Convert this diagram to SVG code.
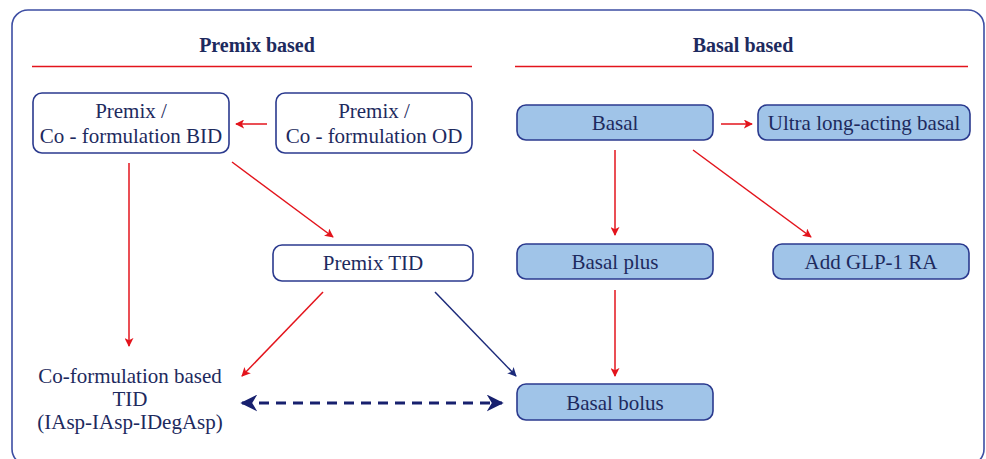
<svg xmlns="http://www.w3.org/2000/svg" width="986" height="459" viewBox="0 0 986 459">
  <style>
    .frame { fill: #ffffff; stroke: #3d4ea3; stroke-width: 1.6; }
    .rule { stroke: #e3141c; stroke-width: 1.6; }
    .head { font-family: 'Liberation Serif', 'DejaVu Serif', serif; font-weight: bold; font-size: 20px; fill: #1d2a5e; text-anchor: middle; }
    .lbl { font-family: 'Liberation Serif', 'DejaVu Serif', serif; font-size: 21px; fill: #1d2a5e; text-anchor: middle; }
    .box-w { fill: #ffffff; stroke: #2b3a8e; stroke-width: 1.6; }
    .box-b { fill: #a0c4e8; stroke: #2b3a8e; stroke-width: 1.6; }
    .red { stroke: #e3141c; stroke-width: 1.5; fill: none; }
    .navy { stroke: #1c2a7a; stroke-width: 1.5; fill: none; }
    .dash { stroke: #17206e; stroke-width: 3; fill: none; stroke-dasharray: 10 7; }
  </style>
  <defs>
    <marker id="ah-red" viewBox="0 0 10 10" refX="9" refY="5" markerWidth="9" markerHeight="9" markerUnits="userSpaceOnUse" orient="auto">
      <path d="M0,0 L10,5 L0,10 L2.5,5 Z" fill="#e3141c"/>
    </marker>
    <marker id="ah-navy" viewBox="0 0 10 10" refX="9" refY="5" markerWidth="9" markerHeight="9" markerUnits="userSpaceOnUse" orient="auto">
      <path d="M0,0 L10,5 L0,10 L2.5,5 Z" fill="#1c2a7a"/>
    </marker>
    <marker id="ah-dash" viewBox="0 0 10 10" refX="9" refY="5" markerWidth="17" markerHeight="17" markerUnits="userSpaceOnUse" orient="auto-start-reverse">
      <path d="M0,0 L10,5 L0,10 L3,5 Z" fill="#17206e"/>
    </marker>
  </defs>

  <!-- outer frame -->
  <rect class="frame" x="12" y="10" width="972" height="455" rx="16"/>

  <!-- column headings -->
  <g id="heading-premix">
    <text class="head" x="257" y="52">Premix based</text>
    <line class="rule" x1="32" y1="66.5" x2="472" y2="66.5"/>
  </g>
  <g id="heading-basal">
    <text class="head" x="743" y="52">Basal based</text>
    <line class="rule" x1="515" y1="66.5" x2="968" y2="66.5"/>
  </g>

  <!-- connectors -->
  <g id="connectors">
    <line class="red" x1="267" y1="124" x2="236" y2="124" marker-end="url(#ah-red)"/>
    <line class="red" x1="129" y1="163" x2="129" y2="346" marker-end="url(#ah-red)"/>
    <line class="red" x1="232" y1="162" x2="333" y2="237" marker-end="url(#ah-red)"/>
    <line class="red" x1="323" y1="292" x2="242" y2="376" marker-end="url(#ah-red)"/>
    <line class="navy" x1="435" y1="292" x2="516" y2="376" marker-end="url(#ah-navy)"/>
    <line class="dash" x1="242" y1="403" x2="502" y2="403" marker-start="url(#ah-dash)" marker-end="url(#ah-dash)"/>
    <line class="red" x1="721" y1="124" x2="752" y2="124" marker-end="url(#ah-red)"/>
    <line class="red" x1="615" y1="150" x2="615" y2="235" marker-end="url(#ah-red)"/>
    <line class="red" x1="693" y1="150" x2="811" y2="237" marker-end="url(#ah-red)"/>
    <line class="red" x1="615" y1="290" x2="615" y2="376" marker-end="url(#ah-red)"/>
  </g>

  <!-- premix nodes -->
  <g id="premix-bid">
    <rect class="box-w" x="33" y="93" width="196" height="60" rx="9"/>
    <text class="lbl" x="131" y="118">Premix /</text>
    <text class="lbl" x="131" y="143">Co - formulation BID</text>
  </g>
  <g id="premix-od">
    <rect class="box-w" x="276" y="93" width="196" height="60" rx="9"/>
    <text class="lbl" x="374" y="118">Premix /</text>
    <text class="lbl" x="374" y="143">Co - formulation OD</text>
  </g>
  <g id="premix-tid">
    <rect class="box-w" x="273" y="245" width="200" height="36" rx="9"/>
    <text class="lbl" x="373" y="270">Premix TID</text>
  </g>
  <g id="coformulation-tid">
    <text class="lbl" x="130" y="383">Co-formulation based</text>
    <text class="lbl" x="130" y="406">TID</text>
    <text class="lbl" x="130" y="429">(IAsp-IAsp-IDegAsp)</text>
  </g>

  <!-- basal nodes -->
  <g id="basal">
    <rect class="box-b" x="517" y="105" width="196" height="35" rx="9"/>
    <text class="lbl" x="615" y="130">Basal</text>
  </g>
  <g id="ultra-long-basal">
    <rect class="box-b" x="758" y="105" width="212" height="35" rx="9"/>
    <text class="lbl" x="864" y="130">Ultra long-acting basal</text>
  </g>
  <g id="basal-plus">
    <rect class="box-b" x="517" y="244" width="196" height="35" rx="9"/>
    <text class="lbl" x="615" y="269">Basal plus</text>
  </g>
  <g id="add-glp1">
    <rect class="box-b" x="773" y="244" width="196" height="35" rx="9"/>
    <text class="lbl" x="871" y="269">Add GLP-1 RA</text>
  </g>
  <g id="basal-bolus">
    <rect class="box-b" x="517" y="384" width="196" height="36" rx="9"/>
    <text class="lbl" x="615" y="410">Basal bolus</text>
  </g>
</svg>
